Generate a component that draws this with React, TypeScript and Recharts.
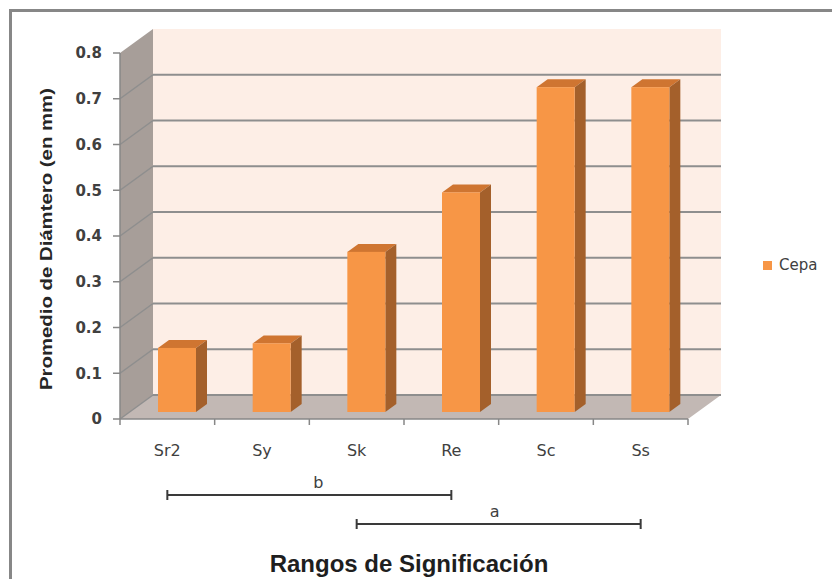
import React from 'react';
import { BarChart, Bar, XAxis, YAxis, ReferenceArea, Legend } from 'recharts';

// Strains and their mean halo diameter (mm)
const categories = ['Sr2', 'Sy', 'Sk', 'Re', 'Sc', 'Ss'];
const cepaValues = [0.14, 0.15, 0.35, 0.48, 0.71, 0.71];
const yTicks = [0, 0.1, 0.2, 0.3, 0.4, 0.5, 0.6, 0.7, 0.8];
const gridTicks = [0, 0.1, 0.2, 0.3, 0.4, 0.5, 0.6, 0.7];

// Significance groups drawn as brackets under the axis
const groupLabels = ['b', 'a'];
const groupFrom = ['Sr2', 'Sk'];
const groupTo = ['Re', 'Ss'];

const data = categories.map((name, i) => ({ name, Cepa: cepaValues[i] }));

const W = 840;
const H = 587;

// depth of the 3-D box (back wall offset from the front plane)
const WALL_DX = 33;
const WALL_DY = 24;
// bars sit part-way into the box, with their own small depth
const BAR_DX = 10;
const BAR_DY = 7;
const BAR_DEPTH_X = 11;
const BAR_DEPTH_Y = 8;

const AXIS_GRAY = '#878787';
const TEXT_GRAY = '#404040';
const FONT = "'DejaVu Sans', sans-serif";
const ARIAL = "'Liberation Sans', Arial, sans-serif";

const Box3D = (props: any) => {
  const { x, y, width, height } = props;
  const yMax = yTicks[yTicks.length - 1];
  const bottom = y + height;
  const yOf = (v: number) => bottom - (v / yMax) * height;
  const n = categories.length;
  const step = width / n;
  const centerOf = (name: string) => x + (categories.indexOf(name) + 0.5) * step;

  return (
    <g>
      {/* left side wall */}
      <polygon
        points={`${x},${y} ${x + WALL_DX},${y - WALL_DY} ${x + WALL_DX},${bottom - WALL_DY} ${x},${bottom}`}
        fill="#a79e99"
      />
      {/* back wall */}
      <rect x={x + WALL_DX} y={y - WALL_DY} width={width} height={height} fill="#fdeee6" />
      {/* floor */}
      <polygon
        points={`${x},${bottom} ${x + WALL_DX},${bottom - WALL_DY} ${x + width + WALL_DX},${bottom - WALL_DY} ${x + width},${bottom}`}
        fill="#c2b8b4"
      />
      {/* gridlines on the back and side walls */}
      {gridTicks.map((v) => {
        const gy = yOf(v);
        return (
          <g key={v}>
            <line x1={x + WALL_DX} y1={gy - WALL_DY} x2={x + width + WALL_DX} y2={gy - WALL_DY} stroke="#8e8e8e" strokeWidth={2} />
            <line x1={x} y1={gy} x2={x + WALL_DX} y2={gy - WALL_DY} stroke="#8e8e8e" strokeWidth={1.5} />
          </g>
        );
      })}
      {/* category boundary ticks */}
      {Array.from({ length: n + 1 }, (_, i) => (
        <line key={i} x1={x + i * step} y1={bottom} x2={x + i * step} y2={bottom + 6} stroke={AXIS_GRAY} strokeWidth={1.5} />
      ))}
      {/* significance brackets */}
      {groupLabels.map((label, i) => {
        const x1 = centerOf(groupFrom[i]);
        const x2 = centerOf(groupTo[i]);
        const ly = bottom + 76 + i * 29;
        return (
          <g key={label}>
            <line x1={x1} y1={ly} x2={x2} y2={ly} stroke="#3a3a3a" strokeWidth={2} />
            <line x1={x1} y1={ly - 5} x2={x1} y2={ly + 5} stroke="#3a3a3a" strokeWidth={2} />
            <line x1={x2} y1={ly - 5} x2={x2} y2={ly + 5} stroke="#3a3a3a" strokeWidth={2} />
            <text x={(x1 + x2) / 2 + (i === 0 ? 9 : -4)} y={ly - 7} textAnchor="middle" fontFamily={FONT} fontSize={16} fill={TEXT_GRAY}>
              {label}
            </text>
          </g>
        );
      })}
    </g>
  );
};

const Bar3D = (props: any) => {
  const { x, y, width, height } = props;
  if (height == null || height <= 0) return null;
  const fx = x + BAR_DX;
  const fy = y - BAR_DY;
  const r = fx + width;
  const b = fy + height;
  return (
    <g>
      <polygon
        points={`${fx},${fy} ${fx + BAR_DEPTH_X},${fy - BAR_DEPTH_Y} ${r + BAR_DEPTH_X},${fy - BAR_DEPTH_Y} ${r},${fy}`}
        fill="#cf7531"
      />
      <polygon
        points={`${r},${fy} ${r + BAR_DEPTH_X},${fy - BAR_DEPTH_Y} ${r + BAR_DEPTH_X},${b - BAR_DEPTH_Y} ${r},${b}`}
        fill="#a4602b"
      />
      <rect x={fx} y={fy} width={width} height={height} fill="#f79646" />
    </g>
  );
};

const YTitle = (props: any) => {
  const vb = props.viewBox || { x: 60, y: 53, width: 60, height: 366 };
  const cx = vb.x - 14;
  const cy = vb.y + vb.height / 2 + 3;
  return (
    <text
      x={cx}
      y={cy}
      transform={`rotate(-90, ${cx}, ${cy})`}
      textAnchor="middle"
      dominantBaseline="central"
      fontFamily={ARIAL}
      fontWeight="bold"
      fontSize={16}
      textLength={302}
      lengthAdjust="spacingAndGlyphs"
      fill="#262626"
    >
      Promedio de Diámtero (en mm)
    </text>
  );
};

const XTitle = (props: any) => {
  const vb = props.viewBox || { x: 120, y: 419, width: 568, height: 30 };
  return (
    <text
      x={vb.x + vb.width / 2 + 5}
      y={vb.y + 153}
      textAnchor="middle"
      fontFamily={ARIAL}
      fontWeight="bold"
      fontSize={24}
      fill="#1e1e1e"
    >
      Rangos de Significación
    </text>
  );
};

const LegendContent = (props: any) => {
  const items = props.payload || [];
  return (
    <div>
      {items.map((item: any) => (
        <div key={item.value} style={{ display: 'flex', alignItems: 'center', height: 18 }}>
          <span style={{ display: 'inline-block', width: 9, height: 9, background: '#f79646', marginRight: 7 }} />
          <span style={{ fontFamily: FONT, fontSize: 15, color: TEXT_GRAY }}>{item.value}</span>
        </div>
      ))}
    </div>
  );
};

export default function App() {
  return (
    <div style={{ position: 'relative', width: W, height: H, margin: -8, overflow: 'hidden', background: '#fff' }}>
      <div
        style={{
          position: 'absolute',
          left: 9,
          top: 9,
          width: W + 20,
          height: H + 20,
          border: '3px solid #878787',
          boxSizing: 'border-box',
        }}
      />
      <div style={{ position: 'absolute', left: 0, top: 0 }}>
        <BarChart width={W} height={H} data={data} margin={{ top: 53, right: 152, bottom: 138, left: 60 }}>
          <ReferenceArea y1={0} y2={0.8} shape={<Box3D />} />
          <XAxis
            dataKey="name"
            tickLine={false}
            axisLine={{ stroke: AXIS_GRAY, strokeWidth: 1.5 }}
            tickSize={6}
            tickMargin={20}
            height={30}
            interval={0}
            tick={{ fontFamily: FONT, fontSize: 16, fill: TEXT_GRAY }}
            label={XTitle}
          />
          <YAxis
            type="number"
            domain={[0, 0.8]}
            ticks={yTicks}
            interval={0}
            width={60}
            tickSize={7}
            tickMargin={11}
            axisLine={{ stroke: AXIS_GRAY, strokeWidth: 1.5 }}
            tickLine={{ stroke: AXIS_GRAY, strokeWidth: 1.5 }}
            tick={{ fontFamily: FONT, fontSize: 15, fontWeight: 'bold', fill: TEXT_GRAY }}
            tickFormatter={(v: number) => String(v)}
            label={YTitle}
          />
          <Bar dataKey="Cepa" name="Cepa" fill="#f79646" barSize={38} isAnimationActive={false} shape={<Bar3D />} />
          <Legend
            layout="horizontal"
            verticalAlign="middle"
            align="center"
            wrapperStyle={{ left: 763, top: 256, width: 70 }}
            content={<LegendContent />}
          />
        </BarChart>
      </div>
    </div>
  );
}
